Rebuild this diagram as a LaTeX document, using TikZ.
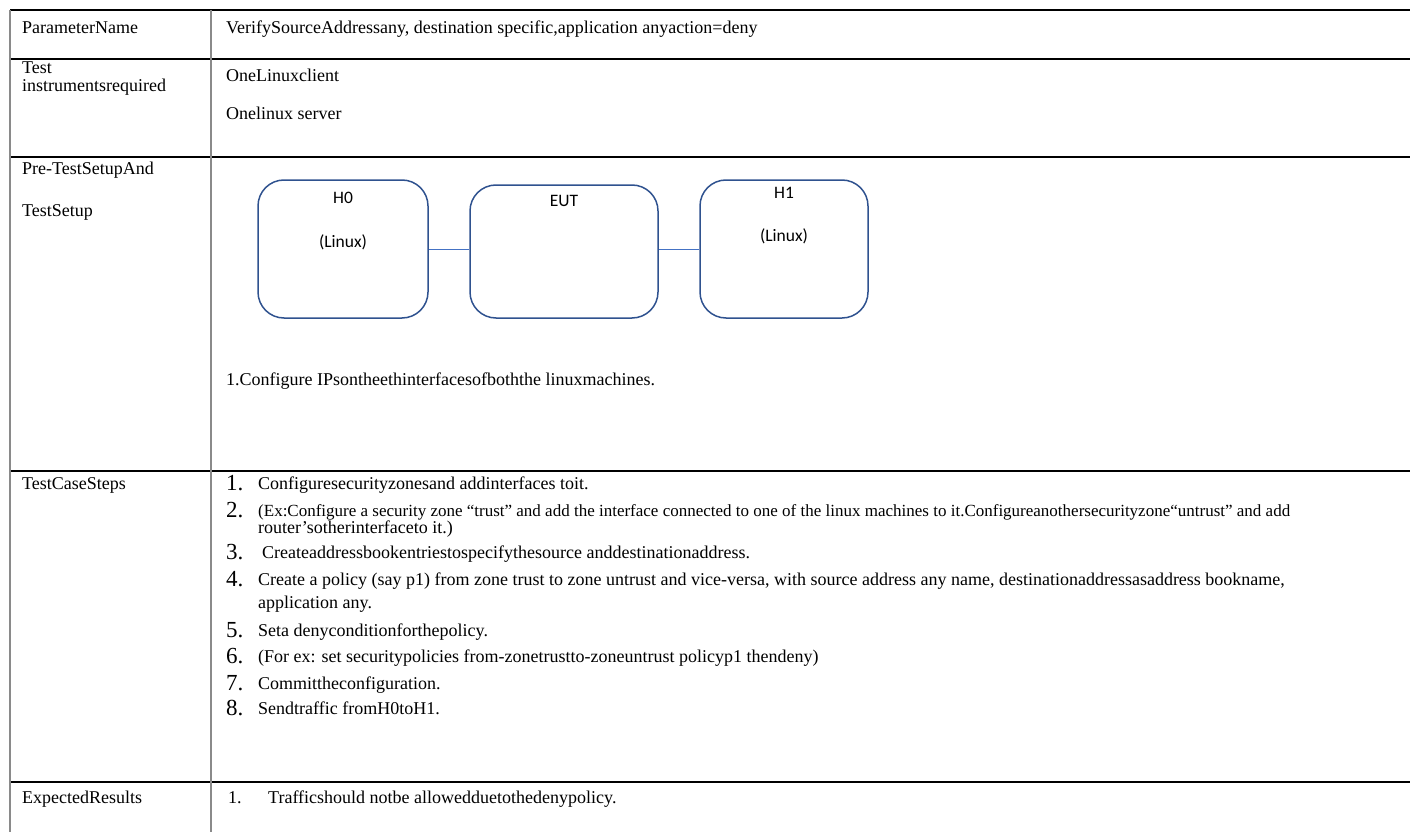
\documentclass[tikz,border=0pt]{standalone}
\usepackage{fontspec}
\setmainfont{Liberation Serif}
\newfontfamily\boxfont{Carlito}
\usetikzlibrary{positioning}

\definecolor{hostblue}{HTML}{2F528F}
\definecolor{wireblue}{HTML}{4472C4}
\definecolor{colgray}{HTML}{8A8A8A}

\tikzset{
  rowrule/.style={line width=1.4pt},
  colrule/.style={line width=1.2pt, draw=colgray},
  cell/.style={anchor=base west, inner sep=0pt, font=\fontsize{18}{22}\selectfont},
  smallcell/.style={cell, font=\fontsize{17}{21}\selectfont},
  num/.style={anchor=base west, inner sep=0pt, font=\fontsize{23}{26}\selectfont},
  host/.style={draw=hostblue, line width=1.5pt, rounded corners=26pt, minimum width=170pt, minimum height=138pt},
  hostlabel/.style={font=\boxfont\fontsize{17.5}{20}\selectfont, inner sep=0pt},
  wire/.style={draw=wireblue, line width=0.9pt}
}

\begin{document}
\begin{tikzpicture}[x=1pt,y=-1pt]
	\useasboundingbox (0,0) rectangle (1410,832);

	% table rules
	\draw[rowrule] (10,10) -- (1410,10);
	\draw[rowrule] (10,59) -- (1410,59);
	\draw[rowrule] (10,157) -- (1410,157);
	\draw[rowrule] (10,471) -- (1410,471);
	\draw[rowrule] (10,782) -- (1410,782);
	\draw[colrule] (10,10) -- (10,832);
	\draw[colrule] (211,10) -- (211,832);

	% left column
	\node(pname)	[cell] at (22,34) {ParameterName};
	\node(test)	[cell] at (22,74) {Test};
	\node(instr)	[cell] at (22,92) {instrumentsrequired};
	\node(pretest)	[cell] at (22,174) {Pre-TestSetupAnd};
	\node(setup)	[cell] at (22,216) {TestSetup};
	\node(steps)	[cell] at (22,489) {TestCaseSteps};
	\node(expect)	[cell] at (22,803) {ExpectedResults};

	% right column
	\node(verify)	[cell] at (226,34) {VerifySourceAddressany, destination specific,application anyaction=deny};
	\node(client)	[cell] at (226,82) {OneLinuxclient};
	\node(server)	[cell] at (226,120) {Onelinux server};

	% setup diagram
	\node(h0)  	[host] at (343,249) {};
	\node(eut) 	[host, minimum width=188pt, minimum height=133pt] at (564,251.5) {};
	\node(h1)  	[host, minimum width=168pt] at (784,249) {};
	\node(h0name)	[hostlabel] at (343,198) {H0};
	\node(h0os)	[hostlabel] at (343,242) {(Linux)};
	\node(eutname)	[hostlabel] at (564,201) {EUT};
	\node(h1name)	[hostlabel] at (784,193) {H1};
	\node(h1os)	[hostlabel] at (784,236) {(Linux)};

	\draw[wire] (h0.east) -- (h0.east -| eut.west);
	\draw[wire] (h1.west -| eut.east) -- (h1.west);

	\node(ipconf)	[cell] at (226,385) {1.Configure IPsontheethinterfacesofboththe linuxmachines.};

	% test case steps
	\node(n1)	[num] at (226,490) {1.};
	\node(s1)	[cell] at (258,489) {Configuresecurityzonesand addinterfaces toit.};
	\node(n2)	[num] at (226,517) {2.};
	\node(s2)	[smallcell] at (258,516) {(Ex:Configure a security zone “trust” and add the interface connected to one of the linux machines to it.Configureanothersecurityzone“untrust” and add};
	\node(s2b)	[cell] at (258,533) {router’sotherinterfaceto it.)};
	\node(n3)	[num] at (226,559) {3.};
	\node(s3)	[cell] at (262,558) {Createaddressbookentriestospecifythesource anddestinationaddress.};
	\node(n4)	[num] at (226,586) {4.};
	\node(s4)	[cell] at (258,585) {Create a policy (say p1) from zone trust to zone untrust and vice-versa, with source address any name, destinationaddressasaddress bookname,};
	\node(s4b)	[cell] at (258,608) {application any.};
	\node(n5)	[num] at (226,637) {5.};
	\node(s5)	[cell] at (258,636) {Seta denyconditionforthepolicy.};
	\node(n6)	[num] at (226,663) {6.};
	\node(s6)	[cell] at (258,662) {(For ex: set securitypolicies from-zonetrustto-zoneuntrust policyp1 thendeny)};
	\node(n7)	[num] at (226,690) {7.};
	\node(s7)	[cell] at (258,689) {Committheconfiguration.};
	\node(n8)	[num] at (226,715) {8.};
	\node(s8)	[cell] at (258,714) {Sendtraffic fromH0toH1.};

	% expected results
	\node(r1num)	[cell] at (228,803) {1.};
	\node(r1)	[cell] at (268,803) {Trafficshould notbe allowedduetothedenypolicy.};
\end{tikzpicture}
\end{document}
